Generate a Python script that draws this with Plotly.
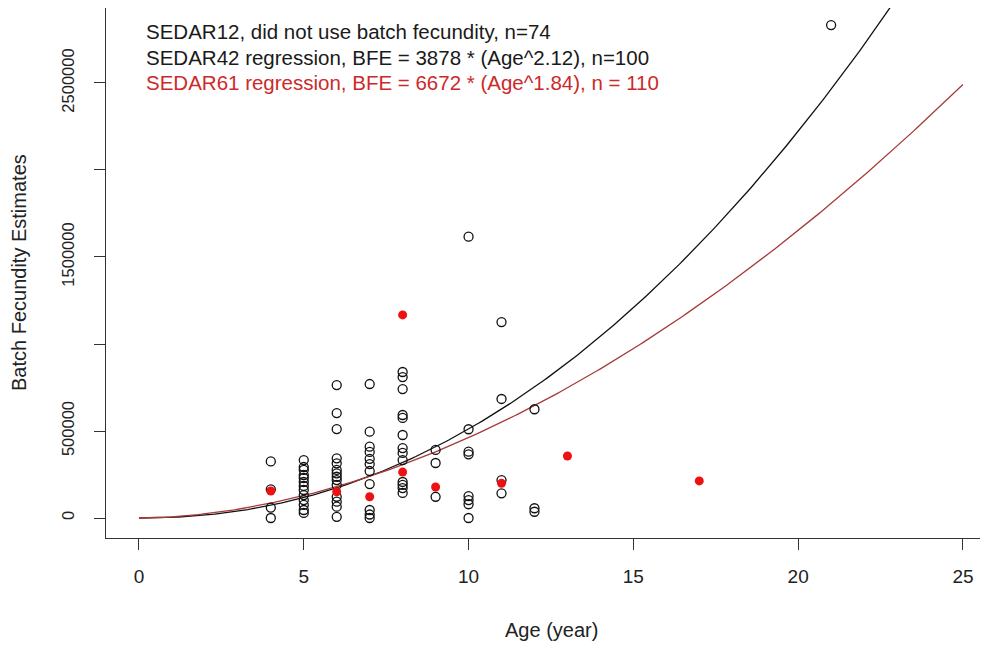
import plotly.graph_objects as go

# SEDAR12 observations (open circles)
sedar12_age = ([4]*4 + [5]*13 + [6]*14 + [7]*11 + [8]*13 + [9]*3 + [10]*8 + [11]*4 + [12]*3 + [21])
sedar12_bfe = [
    325000, 165000, 60000, 0,
    333000, 293000, 276000, 247000, 230000, 207000, 184000, 161000, 132000, 103000, 75000, 46000, 29000,
    764000, 603000, 511000, 343000, 314000, 276000, 257000, 237000, 218000, 190000, 122000, 94000, 65000, 7000,
    770000, 496000, 410000, 380000, 340000, 310000, 270000, 195000, 46000, 20000, 0,
    839000, 810000, 741000, 592000, 575000, 477000, 402000, 374000, 333000, 207000, 190000, 172000, 144000,
    391000, 316000, 122000,
    1617000, 510000, 381000, 366000, 126000, 103000, 79000, 0,
    1126000, 684000, 218000, 142000,
    625000, 56000, 36000,
    2833000,
]

# New observations (filled red)
new_age = [4, 6, 7, 8, 8, 9, 11, 13, 17]
new_bfe = [155000, 151000, 122000, 1167000, 264000, 178000, 199000, 356000, 213000]

# Regression parameters stated in the legend
sedar42_a, sedar42_b = 3878, 2.12
sedar61_a, sedar61_b = 6672, 1.84
curve_age = [i * 0.1 for i in range(0, 251)]
sedar42_curve = [sedar42_a * a ** sedar42_b for a in curve_age]
sedar61_curve = [sedar61_a * a ** sedar61_b for a in curve_age]

x_ticks = [0, 5, 10, 15, 20, 25]
y_ticks = [0, 500000, 1000000, 1500000, 2000000, 2500000]
y_ticktext = ["0", "500000", "", "1500000", "", "2500000"]

legend_lines = [
    ("SEDAR12, did not use batch fecundity, n=74", "#1a1a1a"),
    ("SEDAR42 regression, BFE = 3878 * (Age^2.12), n=100", "#1a1a1a"),
    ("SEDAR61 regression, BFE = 6672 * (Age^1.84), n = 110", "#cc2a2a"),
]

FONT = "Liberation Sans, Arial, sans-serif"

fig = go.Figure()
fig.add_trace(go.Scatter(x=curve_age, y=sedar42_curve, mode="lines",
                         line=dict(color="#111111", width=1.3), hoverinfo="skip"))
fig.add_trace(go.Scatter(x=curve_age, y=sedar61_curve, mode="lines",
                         line=dict(color="#a83a3a", width=1.3), hoverinfo="skip"))
fig.add_trace(go.Scatter(x=sedar12_age, y=sedar12_bfe, mode="markers",
                         marker=dict(symbol="circle-open", size=9, color="#111111",
                                     line=dict(width=1.3, color="#111111"))))
fig.add_trace(go.Scatter(x=new_age, y=new_bfe, mode="markers",
                         marker=dict(symbol="circle", size=9, color="#ee1111")))

# page body has an 8px margin, so the figure sits at (8, 8) in the window
OFF = 8
W, H = 988 - OFF, 645 - OFF
L, R, T, B = 98, 0, 0, 107
PX0, PX1 = OFF + L, OFF + W - R      # plot area in window pixels
PY0, PY1 = OFF + T, OFF + H - B

def px_to_paper(px, py):
    return (px - PX0) / (PX1 - PX0), (PY1 - py) / (PY1 - PY0)

for i, (txt, col) in enumerate(legend_lines):
    xp, yp = px_to_paper(144, 32 + i * 25.5)
    fig.add_annotation(x=xp, y=yp, xref="paper", yref="paper", text=txt, showarrow=False,
                       xanchor="left", yanchor="middle",
                       font=dict(family=FONT, size=20.5, color=col))

xp, yp = px_to_paper(551, 630)
fig.add_annotation(x=xp, y=yp, xref="paper", yref="paper", text="Age (year)", showarrow=False,
                   xanchor="center", yanchor="middle", font=dict(family=FONT, size=20, color="#222222"))
xp, yp = px_to_paper(19, 273)
fig.add_annotation(x=xp, y=yp, xref="paper", yref="paper", text="Batch Fecundity Estimates",
                   showarrow=False, textangle=-90, xanchor="center", yanchor="middle",
                   font=dict(family=FONT, size=20, color="#222222"))

fig.update_layout(
    width=W, height=H, margin=dict(l=L, r=R, t=T, b=B),
    paper_bgcolor="white", plot_bgcolor="white", showlegend=False,
    font=dict(family=FONT, color="#222222"),
)
fig.update_xaxes(range=[-1, 25.76], tickvals=x_ticks, showgrid=False, zeroline=False,
                 showline=True, mirror=True, linecolor="#333333", linewidth=1.3,
                 ticks="outside", ticklen=11, tickcolor="#333333", tickwidth=1,
                 ticklabelstandoff=10, tickfont=dict(size=19, family=FONT, color="#222222"))
fig.update_yaxes(range=[-114940, 2930970], tickvals=y_ticks, ticktext=y_ticktext,
                 showgrid=False, zeroline=False, showline=True, mirror=False,
                 linecolor="#333333", linewidth=1.3, ticks="outside", ticklen=11,
                 tickcolor="#333333", tickwidth=1, tickangle=-90, ticklabelstandoff=13,
                 tickfont=dict(size=16.5, family=FONT, color="#222222"))

fig.write_html("out.html")
